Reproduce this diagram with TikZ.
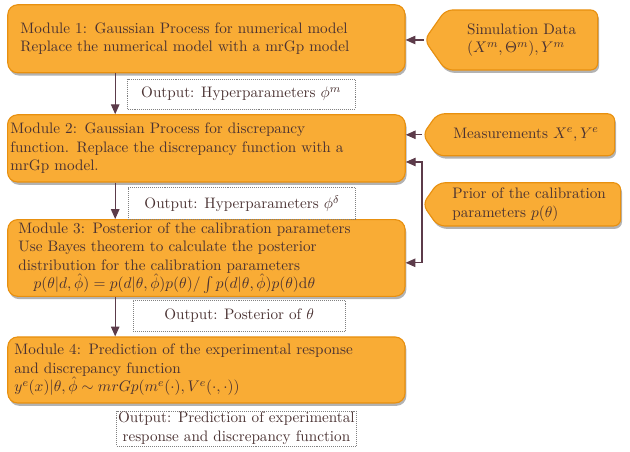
\documentclass[tikz,border=0pt]{standalone}
\usepackage{amsmath}
\usetikzlibrary{shapes.symbols,shadows,arrows.meta}

\definecolor{boxfill}{HTML}{F9AC35}
\definecolor{boxline}{HTML}{E8900F}
\definecolor{inktext}{HTML}{4A3232}
\definecolor{inkline}{HTML}{5C3B4A}

\begin{document}
\begin{tikzpicture}[text=inktext,font=\fontsize{10.8pt}{13.2pt}\selectfont]

\tikzstyle{module} = [rectangle,rounded corners=7pt,fill=boxfill,draw=boxline,thick,
  drop shadow={opacity=0.6,shadow xshift=1pt,shadow yshift=-2pt},
  align=left,inner sep=2pt]
\tikzstyle{source} = [signal,signal to=west,signal pointer angle=110,rounded corners=5pt,
  fill=boxfill,draw=boxline,thick,drop shadow={opacity=0.6,shadow xshift=1pt,shadow yshift=-2pt},
  align=left,inner sep=2pt]
\tikzstyle{output} = [rectangle,draw=gray,densely dotted,align=center,inner sep=1pt]
\tikzstyle{link} = [-{Triangle[length=7pt,width=6pt]},inkline,thick]

\useasboundingbox (0,0) rectangle (15.75,11.3);

\node[module,minimum width=9.93cm,minimum height=1.7cm,text width=9.3cm](m1) at (5.16,10.33)
  {Module 1: Gaussian Process for numerical model\\Replace the numerical model with a mrGp model};
\node[module,minimum width=9.93cm,minimum height=1.68cm,text width=9.8cm](m2) at (5.16,7.59)
  {Module 2: Gaussian Process for discrepancy\\function. Replace the discrepancy function with a\\ mrGp model.};
\node[module,minimum width=9.93cm,minimum height=1.7cm,text width=9.4cm](m3) at (5.16,4.85)
  {Module 3: Posterior of the calibration parameters\\Use Bayes theorem to calculate the posterior\\distribution for the calibration parameters\\
  \quad$p(\theta|d,\hat\phi)=p(d|\theta,\hat\phi)p(\theta)/\int p(d|\theta,\hat\phi)p(\theta)\mathrm{d}\theta$};
\node[module,minimum width=9.93cm,minimum height=1.65cm,text width=9.6cm](m4) at (5.16,2.05)
  {Module 4: Prediction of the experimental response\\and discrepancy function\\
  $y^e(x)|\theta,\hat\phi\sim mrGp(m^e(\cdot),V^e(\cdot,\cdot))$};

\node[output,minimum width=5.68cm,minimum height=0.75cm](o1) at (6.03,8.95){Output: Hyperparameters $\phi^m$};
\node[output,minimum width=5.68cm,minimum height=0.8cm](o2) at (6.05,6.21){Output: Hyperparameters $\phi^\delta$};
\node[output,minimum width=5.3cm,minimum height=0.78cm](o3) at (5.98,3.41){Output: Posterior of $\theta$};
\node[output,minimum width=5.28cm,minimum height=0.88cm](o4) at (5.91,0.59)
  {Output: Prediction of experimental\\response and discrepancy function};

\node[source,minimum width=4.33cm,minimum height=1.5cm](sim) at (13.04,10.3)
  {Simulation Data\\$(X^m,\Theta^m),Y^m$};
\node[source,minimum width=4.8cm,minimum height=1.05cm](meas) at (13.15,7.93)
  {Measurements $X^e,Y^e$};
\node[source,minimum width=4.95cm,minimum height=1.08cm](prior) at (13.23,6.19)
  {Prior of the calibration\\parameters $p(\theta)$};

\coordinate (down) at (2.88,0);
\coordinate (pj) at (10.55,6.19);

\draw[link] (m1.south -| down) -- (m2.north -| down);
\draw[link] (m2.south -| down) -- (m3.north -| down);
\draw[link] (m3.south -| down) -- (m4.north -| down);

\draw[link] (sim.west) -- (sim.west -| m1.east);
\draw[link] (meas.west) -- (meas.west -| m2.east);
\draw[inkline,thick] (prior.west) -- (pj);
\draw[link] (pj) |- ([yshift=-0.34cm]m2.east);
\draw[link] (pj) |- ([yshift=-0.12cm]m3.east);

\end{tikzpicture}
\end{document}
